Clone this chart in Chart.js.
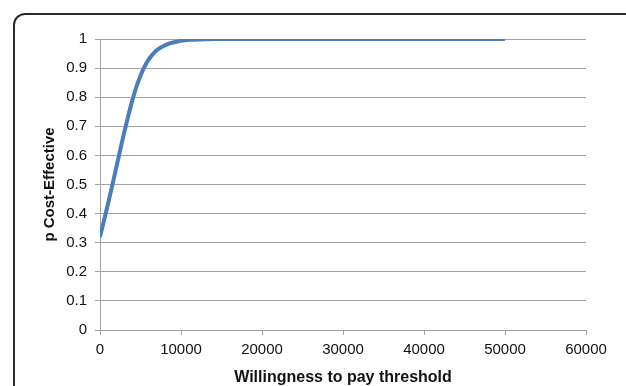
<!DOCTYPE html>
<html>
<head>
<meta charset="utf-8">
<script src="https://cdn.jsdelivr.net/npm/chart.js@4/dist/chart.umd.min.js"></script>
<style>
  html, body { margin: 0; padding: 0; background: #fff; overflow: hidden; }
  #wrap { position: relative; width: 626px; height: 386px; overflow: hidden; }
  #frame {
    position: absolute; left: 13px; top: 13px; width: 700px; height: 500px;
    border: 2px solid #2b2b2b; border-radius: 12px; box-sizing: border-box;
  }
  #c { position: absolute; left: 0; top: 0; }
</style>
</head>
<body>
<div id="wrap">
  <div id="frame"></div>
  <canvas id="c" width="626" height="386"></canvas>
</div>
<script>
// Willingness-to-pay thresholds and probability of being cost-effective
const wtp = [0, 1000, 2000, 3000, 4000, 4500, 5000, 5500, 6000, 6500, 7000, 7500,
             8000, 8500, 9000, 10000, 11000, 12000, 13000, 14000,
             20000, 30000, 40000, 50000];
const pCostEffective = [0.32, 0.435, 0.557, 0.68, 0.79, 0.836, 0.874, 0.905, 0.929, 0.947, 0.961, 0.971,
                        0.978, 0.984, 0.988, 0.994, 0.997, 0.998, 0.999, 1.0,
                        1.0, 1.0, 1.0, 1.0];

const xTicks = [0, 10000, 20000, 30000, 40000, 50000, 60000];
const yTicks = [0, 0.1, 0.2, 0.3, 0.4, 0.5, 0.6, 0.7, 0.8, 0.9, 1];

const FONT = '"Liberation Sans", Arial, Helvetica, sans-serif';
const GRID = '#a3a3a3';

const points = wtp.map((x, i) => ({ x: x, y: pCostEffective[i] }));

new Chart(document.getElementById('c'), {
  type: 'line',
  data: {
    datasets: [{
      data: points,
      borderColor: '#4A7EBB',
      borderWidth: 4,
      pointRadius: 0,
      cubicInterpolationMode: 'monotone',
      fill: false
    }]
  },
  options: {
    responsive: false,
    animation: false,
    events: [],
    layout: { padding: { left: 41, right: 40, top: 39, bottom: 0 } },
    plugins: { legend: { display: false }, tooltip: { enabled: false } },
    scales: {
      x: {
        type: 'linear',
        min: xTicks[0],
        max: xTicks[xTicks.length - 1],
        afterBuildTicks: s => { s.ticks = xTicks.map(v => ({ value: v })); },
        afterFit: s => { s.height = 56; },
        grid: { drawOnChartArea: false, drawTicks: true, tickLength: 5, color: GRID, lineWidth: 1 },
        border: { display: true, color: GRID, width: 1 },
        ticks: {
          padding: 6,
          color: '#111',
          font: { family: FONT, size: 15 },
          maxRotation: 0,
          callback: v => String(v)
        },
        title: {
          display: true,
          text: 'Willingness to pay threshold',
          color: '#111',
          padding: { top: 0, bottom: 0 },
          font: { family: FONT, size: 16, weight: 'bold', lineHeight: 1.1 }
        }
      },
      y: {
        type: 'linear',
        min: 0,
        max: 1,
        afterBuildTicks: s => { s.ticks = yTicks.map(v => ({ value: v })); },
        afterFit: s => { s.width = 59; },
        grid: { drawOnChartArea: true, drawTicks: true, tickLength: 5, color: GRID, lineWidth: 1 },
        border: { display: true, color: GRID, width: 1 },
        ticks: {
          padding: 8,
          color: '#111',
          font: { family: FONT, size: 15 },
          callback: v => String(Math.round(v * 10) / 10)
        },
        title: {
          display: true,
          text: 'p Cost-Effective',
          color: '#111',
          padding: { top: 0, bottom: 0 },
          font: { family: FONT, size: 15, weight: 'bold', lineHeight: 1.2 }
        }
      }
    }
  }
});
</script>
</body>
</html>
